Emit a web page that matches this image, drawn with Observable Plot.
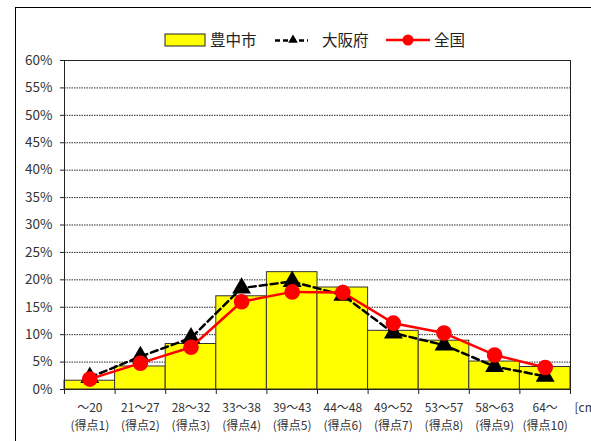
<!DOCTYPE html>
<html><head><meta charset="utf-8">
<script src="https://cdn.jsdelivr.net/npm/d3@7"></script>
<script src="https://cdn.jsdelivr.net/npm/@observablehq/plot@0.6"></script>
<style>
html,body{margin:0;padding:0;background:#fff;overflow:hidden;}
#wrap{position:relative;width:591px;height:441px;font-family:"Noto Sans CJK JP","Noto Sans",sans-serif;}
#frame{position:absolute;left:15px;top:7px;width:620px;height:460px;border:1.5px solid #000;box-sizing:border-box;}
#chart{position:absolute;left:0;top:0;}
#legend{position:absolute;left:0;top:24px;}
</style>
</head><body>
<div id="wrap">
  <div id="frame"></div>
  <div id="chart"></div>
  <svg id="legend" width="591" height="32" font-family="Noto Sans CJK JP, Noto Sans, sans-serif" font-size="15.5" fill="#222"></svg>
</div>
<script>
// ---- data ----
const ranges = ["～20","21～27","28～32","33～38","39～43","44～48","49～52","53～57","58～63","64～"];
const scoreLabels = ["(得点1)","(得点2)","(得点3)","(得点4)","(得点5)","(得点6)","(得点7)","(得点8)","(得点9)","(得点10)"];
const toyonaka = [1.6, 4.2, 8.3, 17.0, 21.4, 18.6, 10.7, 8.9, 5.1, 4.1];
const osaka    = [2.2, 6.0, 9.4, 18.5, 19.7, 17.2, 10.3, 8.1, 4.2, 2.4];
const zenkoku  = [1.9, 4.8, 7.7, 16.0, 17.8, 17.7, 12.1, 10.3, 6.3, 4.0];
const yTicks = [0,5,10,15,20,25,30,35,40,45,50,55,60];
const seriesNames = ["豊中市","大阪府","全国"];

const rows = ranges.map((r,i)=>({i, range:r, score:scoreLabels[i], t:toyonaka[i]/100, o:osaka[i]/100, z:zenkoku[i]/100}));
const font = "Noto Sans CJK JP, Noto Sans, sans-serif";

const chart = Plot.plot({
  width: 591, height: 441,
  marginLeft: 64, marginRight: 21, marginTop: 60, marginBottom: 52,
  style: {fontFamily: font, fontSize: "13.5px", color: "#333", background: "transparent"},
  x: {type: "linear", domain: [0, ranges.length]},
  y: {domain: [0, 0.6]},
  marks: [
    Plot.ruleY(yTicks.filter(v => v > 0 && v < 60).map(v => v/100), {stroke: "#111", strokeWidth: 0.9, strokeDasharray: "1.5,1"}),
    Plot.rectY(rows, {x1: d => d.i, x2: d => d.i + 1, y: "t", fill: "#ffff00", stroke: "#333", strokeWidth: 1}),
    Plot.line(rows, {x: d => d.i + 0.5, y: "o", stroke: "#000", strokeWidth: 2.5, strokeDasharray: "7,4"}),
    Plot.dot(rows, {x: d => d.i + 0.5, y: "o", symbol: "triangle", r: 7, fill: "#000"}),
    Plot.line(rows, {x: d => d.i + 0.5, y: "z", stroke: "#ff0000", strokeWidth: 2.5}),
    Plot.dot(rows, {x: d => d.i + 0.5, y: "z", r: 7.8, fill: "#ff0000"}),
    Plot.ruleY([0.6], {stroke: "#222", strokeWidth: 1}),
    Plot.ruleY([0], {stroke: "#222", strokeWidth: 1}),
    Plot.ruleX([0, ranges.length], {stroke: "#222", strokeWidth: 1}),
    Plot.axisY({ticks: yTicks.map(v => v/100), tickFormat: d => Math.round(d*100) + "%", tickSize: 4, tickPadding: 8, label: null, stroke: "#222", fontSize: 13.5}),
    Plot.axisX({ticks: d3.range(0, ranges.length + 1), tickFormat: () => "", tickSize: 5, label: null, stroke: "#222"}),
    Plot.text(rows, {x: d => d.i + 0.5, y: 0, text: d => d.range, dy: 18.5, fill: "#333", fontSize: 12}),
    Plot.text(rows, {x: d => d.i + 0.5, y: 0, text: d => d.score, dy: 36.5, fill: "#333", fontSize: 12}),
    Plot.text(["[cm]"], {x: ranges.length, y: 0, dx: 4, dy: 18.5, textAnchor: "start", fill: "#333", fontSize: 12})
  ]
});
document.getElementById("chart").appendChild(chart);

// legend
const lg = d3.select("#legend");
lg.append("rect").attr("x",165).attr("y",10).attr("width",40).attr("height",12).attr("fill","#ffff00").attr("stroke","#222").attr("stroke-width",1);
lg.append("text").attr("x",210).attr("y",21.5).text(seriesNames[0]);
lg.append("line").attr("x1",275).attr("x2",308).attr("y1",16.5).attr("y2",16.5).attr("stroke","#000").attr("stroke-width",2.5).attr("stroke-dasharray","5,3");
lg.append("path").attr("transform","translate(293,16)").attr("d",d3.symbol(d3.symbolTriangle, 40)()).attr("fill","#000");
lg.append("text").attr("x",322).attr("y",21.5).text(seriesNames[1]);
lg.append("line").attr("x1",386).attr("x2",430).attr("y1",16).attr("y2",16).attr("stroke","#ff0000").attr("stroke-width",2.5);
lg.append("circle").attr("cx",408).attr("cy",16).attr("r",5.5).attr("fill","#ff0000");
lg.append("text").attr("x",434).attr("y",21.5).text(seriesNames[2]);
</script>
</body></html>
